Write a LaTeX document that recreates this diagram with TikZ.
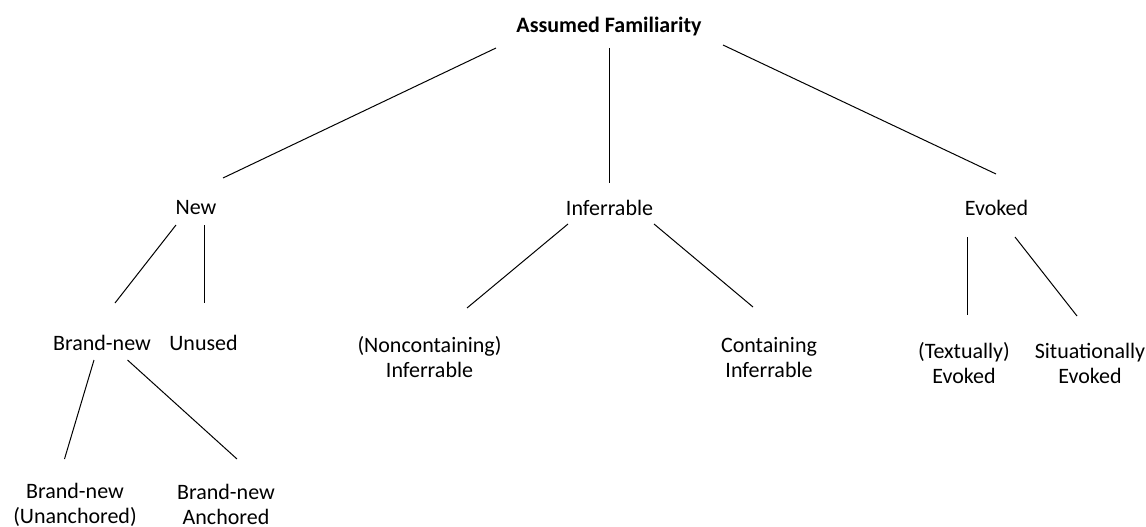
\documentclass[tikz,border=0pt]{standalone}
\usepackage{fontspec}
\setmainfont{Carlito}
\usetikzlibrary{calc}
\begin{document}
\begin{tikzpicture}[x=1pt,y=-1pt,
  lbl/.style={inner sep=0pt, align=center, font=\fontsize{22}{25}\selectfont},
  edge/.style={line width=1pt, black}]
\useasboundingbox (0,0) rectangle (1146,527);
\node[lbl, font=\fontsize{22}{25}\selectfont\bfseries] (af) at (609,27) {Assumed Familiarity};
\node[lbl] (new) at (196,208) {New};
\node[lbl] (inf) at (609.5,208) {Inferrable};
\node[lbl] (ev) at (996.5,208) {Evoked};
\node[lbl] (bn) at (102,343) {Brand-new};
\node[lbl] (un) at (203.5,343) {Unused};
\node[lbl] (nc) at (429.5,357.5) {(Noncontaining)\\Inferrable};
\node[lbl] (ci) at (769,357.5) {Containing\\Inferrable};
\node[lbl] (te) at (964,363.5) {(Textually)\\Evoked};
\node[lbl] (se) at (1090,363.5) {Situationally\\Evoked};
\node[lbl] (bu) at (75,504.5) {Brand-new\\(Unanchored)};
\node[lbl] (ba) at (226,504.5) {Brand-new\\Anchored};
\draw[edge] ($(af.center)+(-113,21)$) -- ($(new.center)+(27,-30)$);
\draw[edge] ($(af.center)+(0,21)$) -- ($(inf.center)+(-0.5,-25)$);
\draw[edge] ($(af.center)+(114,18)$) -- ($(ev.center)+(-0.5,-34)$);
\draw[edge] ($(new.center)+(-20,17)$) -- ($(bn.center)+(13,-40)$);
\draw[edge] ($(new.center)+(8,17)$) -- ($(un.center)+(0.5,-40)$);
\draw[edge] ($(inf.center)+(-41.5,16)$) -- ($(nc.center)+(37.5,-49.5)$);
\draw[edge] ($(inf.center)+(44.5,16)$) -- ($(ci.center)+(-16,-50.5)$);
\draw[edge] ($(ev.center)+(-29.5,29)$) -- ($(te.center)+(3,-48.5)$);
\draw[edge] ($(ev.center)+(18.5,29)$) -- ($(se.center)+(-13,-47.5)$);
\draw[edge] ($(bn.center)+(-8,17)$) -- ($(bu.center)+(-10.5,-45.5)$);
\draw[edge] ($(bn.center)+(25.5,17)$) -- ($(ba.center)+(11,-45.5)$);
\end{tikzpicture}
\end{document}
